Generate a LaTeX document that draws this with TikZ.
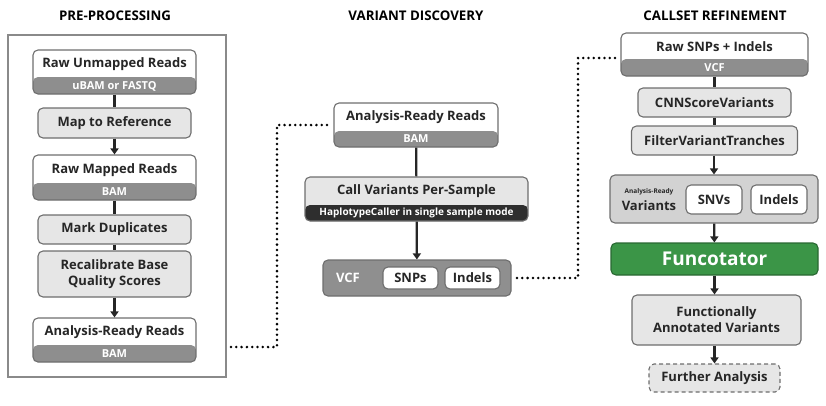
\documentclass[tikz,border=0pt]{standalone}
\usepackage{fontspec}
\setmainfont{Open Sans}
\usetikzlibrary{arrows.meta}
\definecolor{bandgray}{HTML}{8E8E8E}
\definecolor{lightbox}{HTML}{E6E6E6}
\definecolor{bordergray}{HTML}{6E6E6E}
\definecolor{darkband}{HTML}{2E2E2E}
\definecolor{contgray}{HTML}{8F8F8F}
\definecolor{arvgray}{HTML}{D2D2D2}
\definecolor{funcgreen}{HTML}{3B9547}
\definecolor{linecol}{HTML}{262626}
\definecolor{outergray}{HTML}{8A8A8A}
\tikzset{
  base/.style={draw=bordergray, line width=1.1pt, rounded corners=5pt, inner sep=0pt},
  bandbox/.style={base, fill=white, path picture={\fill[bandgray] ([yshift=#1]path picture bounding box.south west) rectangle (path picture bounding box.south east);}},
  darkbandbox/.style={base, fill=lightbox, path picture={\fill[darkband] ([yshift=#1]path picture bounding box.south west) rectangle (path picture bounding box.south east);}},
  stepbox/.style={base, fill=lightbox},
  whitebox/.style={base, fill=white},
  lbl/.style={font=\bfseries\fontsize{13}{16}\selectfont, text=linecol, inner sep=0pt, align=center},
  sublbl/.style={font=\bfseries\fontsize{11}{12}\selectfont, text=white, inner sep=0pt},
  ttl/.style={font=\bfseries\fontsize{13.3}{15}\selectfont, text=black, inner sep=0pt},
  conn/.style={draw=linecol, line width=2.2pt},
  arr/.style={conn, -{Triangle[length=6pt,width=8pt]}},
  dots/.style={draw=black, line width=2.8pt, line cap=round, dash pattern=on 0pt off 5.3pt},
}
\begin{document}
\begin{tikzpicture}[x=1pt,y=-1pt]
\useasboundingbox (0,0) rectangle (826,405);
% titles
\node[ttl] (t1) at (115,16) {PRE-PROCESSING};
\node[ttl] (t2) at (416,16) {VARIANT DISCOVERY};
\node[ttl] (t3) at (715,16) {CALLSET REFINEMENT};
% outer box
\draw[outergray, line width=1.1pt] (8,35) rectangle (226,377);
% left column
\node[bandbox=17pt, minimum width=163pt, minimum height=44pt] (rur) at (114.5,72) {};
\node[lbl] (rurl) at (114.5,64) {Raw Unmapped Reads};
\node[sublbl] (rurs) at (114.5,86) {uBAM or FASTQ};
\node[stepbox, minimum width=153pt, minimum height=30pt] (map) at (114.5,123) {};
\node[lbl] (mapl) at (114.5,123) {Map to Reference};
\node[bandbox=17pt, minimum width=163pt, minimum height=45pt] (rmr) at (114.5,177.5) {};
\node[lbl] (rmrl) at (114.5,170) {Raw Mapped Reads};
\node[sublbl] (rmrs) at (114.5,192) {BAM};
\node[stepbox, minimum width=153pt, minimum height=29pt] (mark) at (114.5,229.5) {};
\node[lbl] (markl) at (114.5,229.5) {Mark Duplicates};
\node[stepbox, minimum width=153pt, minimum height=46pt] (recal) at (114.5,274) {};
\node[lbl] (recall) at (114.5,274) {Recalibrate Base\\Quality Scores};
\node[bandbox=17pt, minimum width=163pt, minimum height=44pt] (lar) at (114.5,340) {};
\node[lbl] (larl) at (114.5,332) {Analysis-Ready Reads};
\node[sublbl] (lars) at (114.5,354) {BAM};
\draw[conn] (rur) -- (map);
\draw[arr] (map) -- (rmr);
\draw[conn] (rmr) -- (mark);
\draw[conn] (mark) -- (recal);
\draw[arr] (recal) -- (lar);
% middle column
\node[bandbox=16pt, minimum width=164pt, minimum height=44pt] (mar) at (416,125) {};
\node[lbl] (marl) at (416,117) {Analysis-Ready Reads};
\node[sublbl] (mars) at (416,139) {BAM};
\node[darkbandbox=16pt, minimum width=223pt, minimum height=44pt] (call) at (416.5,199) {};
\node[lbl] (calll) at (416.5,191) {Call Variants Per-Sample};
\node[sublbl, font=\bfseries\fontsize{10}{11}\selectfont] (calls) at (416.5,213) {HaplotypeCaller in single sample mode};
\node[base, fill=contgray, minimum width=188pt, minimum height=36pt] (vcf) at (417,278) {};
\node[lbl, text=white] (vcfl) at (348,278) {VCF};
\node[whitebox, minimum width=55pt, minimum height=22pt] (snps) at (410.5,278) {};
\node[lbl] (snpsl) at (410.5,278) {SNPs};
\node[whitebox, minimum width=55pt, minimum height=22pt] (ind1) at (472.5,278) {};
\node[lbl] (ind1l) at (472.5,278) {Indels};
\draw[conn] (mar) -- (call);
\draw[arr] (call) -- (vcf);
% right column
\node[bandbox=17pt, minimum width=187pt, minimum height=43pt] (rsi) at (714.5,54.5) {};
\node[lbl] (rsil) at (714.5,47) {Raw SNPs + Indels};
\node[sublbl] (rsis) at (714.5,68) {VCF};
\node[stepbox, minimum width=153pt, minimum height=29pt] (cnn) at (714.5,102.5) {};
\node[lbl] (cnnl) at (714.5,102.5) {CNNScoreVariants};
\node[stepbox, minimum width=166pt, minimum height=29pt] (fvt) at (714.5,140.5) {};
\node[lbl] (fvtl) at (714.5,140.5) {FilterVariantTranches};
\node[base, fill=arvgray, minimum width=208pt, minimum height=48pt] (arv) at (714,199) {};
\node[font=\bfseries\fontsize{6.5}{7}\selectfont, text=linecol, inner sep=0pt] (arvs) at (649,192) {Analysis-Ready};
\node[lbl] (arvl) at (649,205.5) {Variants};
\node[whitebox, minimum width=56pt, minimum height=29pt] (snvs) at (714,199.5) {};
\node[lbl] (snvsl) at (714,199.5) {SNVs};
\node[whitebox, minimum width=56pt, minimum height=29pt] (ind2) at (779,199.5) {};
\node[lbl] (ind2l) at (779,199.5) {Indels};
\node[base, draw=funcgreen!70!black, fill=funcgreen, minimum width=207pt, minimum height=32pt] (func) at (714.5,259) {};
\node[font=\bfseries\fontsize{19}{22}\selectfont, text=white, inner sep=0pt] (funcl) at (714.5,259) {Funcotator};
\node[stepbox, minimum width=169pt, minimum height=50pt] (fav) at (716.5,320) {};
\node[lbl] (favl) at (716.5,320) {Functionally\\Annotated Variants};
\node[stepbox, dashed, dash pattern=on 4pt off 3pt, minimum width=131pt, minimum height=28pt] (fa) at (714.5,378) {};
\node[lbl] (fal) at (714.5,378) {Further Analysis};
\draw[conn] (rsi.south -| cnn) -- (cnn);
\draw[conn] (cnn) -- (fvt.north -| cnn);
\draw[arr] (fvt.south -| arv) -- (arv);
\draw[arr] (arv) -- (func);
\draw[arr] (func) -- (fa.north |- fav.north);
\draw[arr] (fav.south -| fa) -- (fa);
% dotted connectors
\coordinate (d1a) at (231,347);
\coordinate (d1b) at (277,347);
\coordinate (d1c) at (277,125);
\draw[dots] (d1a) -- (d1b) -- (d1c) -- ([xshift=-3pt]mar.west);
\coordinate (d2a) at (517,278);
\coordinate (d2b) at (578,278);
\coordinate (d2c) at (578,58);
\draw[dots] (d2a) -- (d2b) -- (d2c) -- ([xshift=-5pt]rsi.west |- d2c);
\end{tikzpicture}
\end{document}
